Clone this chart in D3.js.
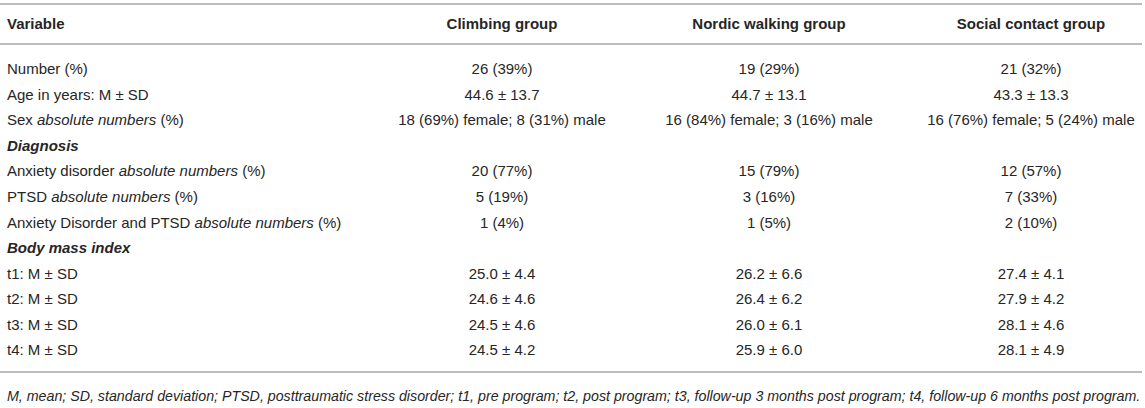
<!DOCTYPE html>
<html>
<head>
<meta charset="utf-8">
<script src="https://cdn.jsdelivr.net/npm/d3@7/dist/d3.min.js"></script>
<style>
  html, body { margin: 0; padding: 0; background: #fff; }
  svg text { font-family: "Liberation Sans", Arial, Helvetica, sans-serif; fill: #262626; }
</style>
</head>
<body>
<svg id="chart" width="1145" height="408"></svg>
<script>
// ---- Data ----
const headerLabel = "Variable";
const groups = ["Climbing group", "Nordic walking group", "Social contact group"];
// Row labels: segments of [text, italic?]; section rows are flagged
const rowLabels = [
  [["Number (%)", false]],
  [["Age in years: M \u00b1 SD", false]],
  [["Sex ", false], ["absolute numbers", true], [" (%)", false]],
  [["Diagnosis", true]],
  [["Anxiety disorder ", false], ["absolute numbers", true], [" (%)", false]],
  [["PTSD ", false], ["absolute numbers", true], [" (%)", false]],
  [["Anxiety Disorder and PTSD ", false], ["absolute numbers", true], [" (%)", false]],
  [["Body mass index", true]],
  [["t1: M \u00b1 SD", false]],
  [["t2: M \u00b1 SD", false]],
  [["t3: M \u00b1 SD", false]],
  [["t4: M \u00b1 SD", false]]
];
const sectionRows = [3, 7];
const climbing = ["26 (39%)", "44.6 \u00b1 13.7", "18 (69%) female; 8 (31%) male", "", "20 (77%)", "5 (19%)", "1 (4%)", "", "25.0 \u00b1 4.4", "24.6 \u00b1 4.6", "24.5 \u00b1 4.6", "24.5 \u00b1 4.2"];
const nordic = ["19 (29%)", "44.7 \u00b1 13.1", "16 (84%) female; 3 (16%) male", "", "15 (79%)", "3 (16%)", "1 (5%)", "", "26.2 \u00b1 6.6", "26.4 \u00b1 6.2", "26.0 \u00b1 6.1", "25.9 \u00b1 6.0"];
const social = ["21 (32%)", "43.3 \u00b1 13.3", "16 (76%) female; 5 (24%) male", "", "12 (57%)", "7 (33%)", "2 (10%)", "", "27.4 \u00b1 4.1", "27.9 \u00b1 4.2", "28.1 \u00b1 4.6", "28.1 \u00b1 4.9"];
const footnote = "M, mean; SD, standard deviation; PTSD, posttraumatic stress disorder; t1, pre program; t2, post program; t3, follow-up 3 months post program; t4, follow-up 6 months post program.";

// ---- Layout ----
const W = 1145;
const svg = d3.select("#chart");
const fontSize = 15;
const lineColor = "#bcbcbc";

const x = d3.scaleOrdinal().domain(groups).range([502, 769, 1031]);
const y = d3.scalePoint().domain(d3.range(rowLabels.length)).range([69, 350]);
const labelX = 7;

// rules
[4, 44, 372].forEach(yy => {
  svg.append("line").attr("x1", 0).attr("x2", W - 3).attr("y1", yy).attr("y2", yy)
    .attr("stroke", lineColor).attr("stroke-width", 2);
});

// header
svg.append("text").attr("x", labelX).attr("y", 24).attr("dy", "0.35em")
  .attr("font-size", fontSize).attr("font-weight", "bold").text(headerLabel);
svg.selectAll("text.hdr").data(groups).join("text").attr("class", "hdr")
  .attr("x", d => x(d)).attr("y", 24).attr("dy", "0.35em")
  .attr("text-anchor", "middle").attr("font-size", fontSize).attr("font-weight", "bold")
  .text(d => d);

// row labels
const lbl = svg.selectAll("text.lbl").data(rowLabels).join("text").attr("class", "lbl")
  .attr("x", labelX).attr("y", (d, i) => y(i)).attr("dy", "0.35em")
  .attr("font-size", fontSize)
  .attr("font-weight", (d, i) => sectionRows.includes(i) ? "bold" : "normal");
lbl.selectAll("tspan").data(d => d).join("tspan")
  .attr("font-style", d => d[1] ? "italic" : "normal")
  .text(d => d[0]);

// values
const series = [climbing, nordic, social];
series.forEach((vals, gi) => {
  svg.selectAll("text.v" + gi).data(vals).join("text").attr("class", "v" + gi)
    .attr("x", x(groups[gi])).attr("y", (d, i) => y(i)).attr("dy", "0.35em")
    .attr("text-anchor", "middle").attr("font-size", fontSize)
    .text(d => d);
});

// footnote (fit to the table width)
const fn = svg.append("text").attr("x", labelX).attr("y", 396).attr("dy", "0.35em")
  .attr("font-size", fontSize).attr("font-style", "italic").text(footnote);
const targetW = 1133;
const curW = fn.node().getComputedTextLength();
if (curW > targetW) fn.attr("font-size", (fontSize * targetW / curW).toFixed(2));
</script>
</body>
</html>
